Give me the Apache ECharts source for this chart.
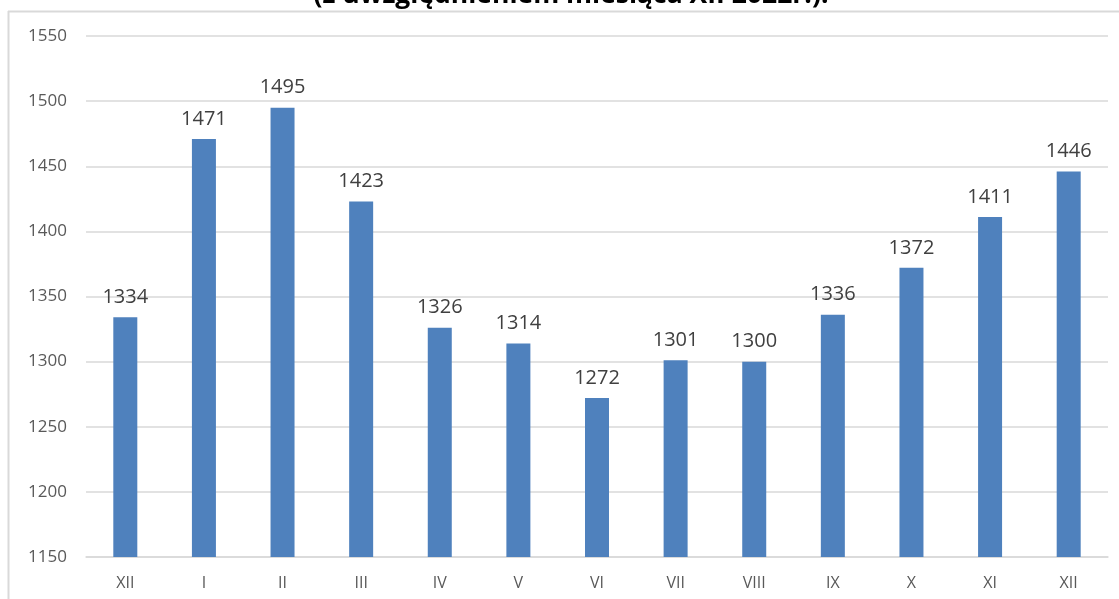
<!DOCTYPE html>
<html>
<head>
<meta charset="utf-8">
<script src="https://cdn.jsdelivr.net/npm/echarts@6/dist/echarts.min.js"></script>
<style>
html,body{margin:0;padding:0;background:#fff;}
#chart{width:1119px;height:599px;}
</style>
</head>
<body>
<div id="chart"></div>
<script>
const titleText = "(z uwzględnieniem miesiąca XII 2022r.).";
const categories = ["XII","I","II","III","IV","V","VI","VII","VIII","IX","X","XI","XII"];
const values = [1334,1471,1495,1423,1326,1314,1272,1301,1300,1336,1372,1411,1446];
const yMin = 1150, yMax = 1550, yStep = 50;

const chart = echarts.init(document.getElementById('chart'), null, {renderer:'canvas'});
chart.setOption({
  animation:false,
  backgroundColor:'#ffffff',
  graphic:[
    {type:'text', x:571, y:-5, style:{text:titleText, font:"bold 26.5px 'Open Sans'", fill:'#000', textAlign:'center', textVerticalAlign:'middle'}, silent:true},
    {type:'rect', shape:{x:0,y:10.5,width:1119,height:1.5}, style:{fill:'#ffffff'}, silent:true, z:5},
    {type:'line', shape:{x1:8,y1:11.5,x2:1119,y2:11.5}, style:{stroke:'#d9d9d9', lineWidth:2}, silent:true, z:6},
    {type:'line', shape:{x1:8.5,y1:11,x2:8.5,y2:599}, style:{stroke:'#d9d9d9', lineWidth:2}, silent:true, z:6}
  ],
  grid:{left:86, right:11, top:36, bottom:42, containLabel:false},
  xAxis:{
    type:'category',
    data:categories,
    axisLine:{show:true, lineStyle:{color:'#d9d9d9', width:1.5}},
    axisTick:{show:false},
    axisLabel:{color:'#595959', fontSize:16, fontFamily:'Open Sans', margin:18}
  },
  yAxis:{
    type:'value',
    min:yMin, max:yMax, interval:yStep,
    axisLine:{show:false},
    axisTick:{show:false},
    splitLine:{lineStyle:{color:'#d9d9d9', width:1.5}},
    axisLabel:{color:'#595959', fontSize:17, fontFamily:'Open Sans', margin:19, formatter:function(v){return String(v);}}
  },
  series:[{
    type:'bar',
    data:values,
    barWidth:24,
    itemStyle:{color:'#4f81bd'},
    label:{show:true, position:'top', distance:10, color:'#404040', fontSize:20, fontFamily:'Open Sans'}
  }]
});
</script>
</body>
</html>
